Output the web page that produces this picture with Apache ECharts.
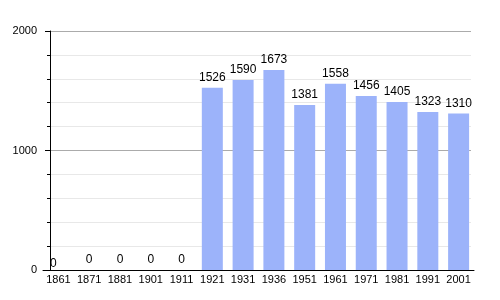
<!DOCTYPE html>
<html><head><meta charset="utf-8">
<script src="https://cdn.jsdelivr.net/npm/echarts@6/dist/echarts.min.js"></script>
<style>html,body{margin:0;padding:0;background:#fff}#c{width:500px;height:300px}</style>
</head><body><div id="c"></div>
<script>
const years = ['1861','1871','1881','1901','1911','1921','1931','1936','1951','1961','1971','1981','1991','2001'];
const population = [0,0,0,0,0,1526,1590,1673,1381,1558,1456,1405,1323,1310];
const yTicks = [0,1000,2000];

const FONT = '"Liberation Sans Narrow", "Arial Narrow", "Liberation Sans", Arial, sans-serif';
const chart = echarts.init(document.getElementById('c'), null, {renderer:'canvas'});
chart.setOption({
  animation:false,
  grid:[
    {left:50, right:29, top:31, bottom:30},
    {left:43, right:26, top:31, bottom:30}
  ],
  xAxis:[
    {type:'value', gridIndex:0, show:false, min:0, max:1},
    {type:'category', gridIndex:1, data:years,
     axisLine:{lineStyle:{color:'#000', width:1}},
     axisTick:{show:false},
     axisLabel:{color:'#000', fontFamily:FONT, fontSize:11, margin:4, interval:0}}
  ],
  yAxis:[
    {type:'value', gridIndex:0, min:yTicks[0], max:yTicks[yTicks.length-1], interval:1000,
     axisLine:{show:true, lineStyle:{color:'#000'}},
     axisTick:{show:true, length:5, lineStyle:{color:'#000'}},
     minorTick:{show:true, splitNumber:5, length:3, lineStyle:{color:'#000'}},
     splitLine:{show:true, lineStyle:{color:'#ababab'}},
     minorSplitLine:{show:true, lineStyle:{color:'#e8e8e8'}},
     axisLabel:{color:'#000', fontFamily:FONT, fontSize:11, margin:13, formatter:v=>String(v)}},
    {type:'value', gridIndex:1, show:false, min:yTicks[0], max:yTicks[yTicks.length-1]}
  ],
  series:[{
    type:'bar', xAxisIndex:1, yAxisIndex:1,
    data: population.map((v,i)=> i===0 ? {value:v, label:{offset:[-5,4]}} : v),
    barWidth:21,
    itemStyle:{color:'#9cb3fa'},
    label:{show:true, position:'top', distance:4, color:'#000', fontFamily:FONT, fontSize:12}
  }]
});
</script></body></html>
